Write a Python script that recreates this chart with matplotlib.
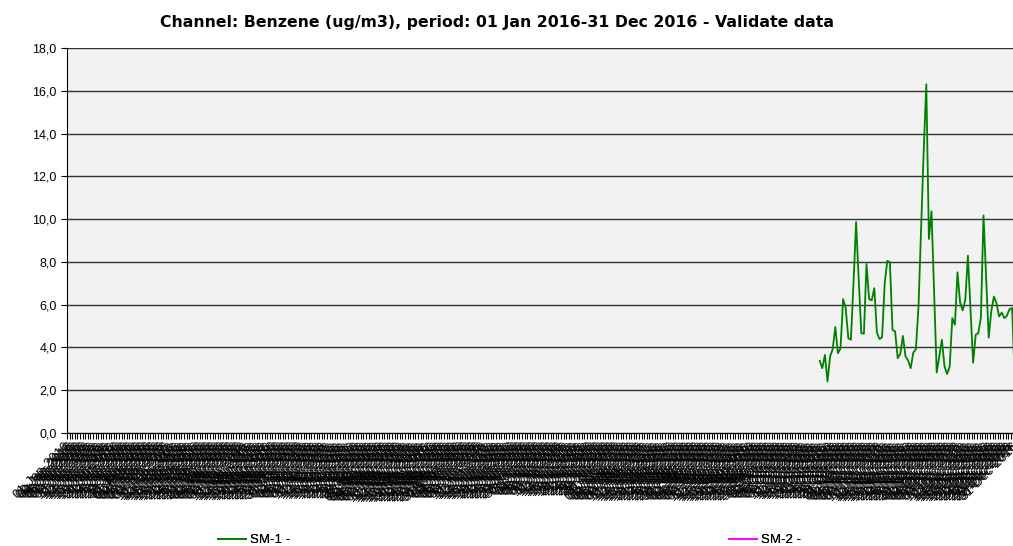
import numpy as np
import pandas as pd
import matplotlib
matplotlib.use('Agg')
import matplotlib.pyplot as plt
from matplotlib.lines import Line2D

# one category per day of 2016
days = pd.date_range('2016-01-01', '2016-12-31', freq='D')
day_labels = [d.strftime('%d-%b-%Y') for d in days]

# SM-1 only has data from mid October on
sm1_start = 289
sm1_values = [3.37, 3.03, 3.65, 2.41, 3.58, 3.92, 4.96, 3.73, 3.95, 6.26,
              5.84, 4.43, 4.36, 7.0, 9.86, 7.2, 4.67, 4.64, 7.90, 6.26,
              6.20, 6.77, 4.70, 4.39, 4.48, 7.0, 8.05, 7.98, 4.82, 4.75,
              3.50, 3.70, 4.54, 3.58, 3.39, 3.03, 3.76, 3.92, 5.9, 9.6,
              13.2, 16.3, 9.07, 10.36, 6.6, 2.83, 3.58, 4.36, 3.11, 2.76,
              3.11, 5.37, 5.06, 7.51, 6.1, 5.73, 6.23, 8.29, 5.8, 3.29,
              4.59, 4.67, 5.4, 10.17, 7.3, 4.46, 5.7, 6.38, 6.07, 5.45,
              5.63, 5.37, 5.48, 5.79, 5.84, 2.5]
sm2_values = []  # no valid data for SM-2

y_ticks = np.arange(0, 19, 2)

sm1 = np.full(len(days), np.nan)
sm1[sm1_start:sm1_start + len(sm1_values)] = sm1_values
sm2 = np.full(len(days), np.nan)
sm2[:len(sm2_values)] = sm2_values

W, H = 1013, 546
fig = plt.figure(figsize=(W / 100, H / 100), dpi=100)
ax = fig.add_axes([67 / W, 113 / H, 951.6 / W, 385 / H])
ax.set_facecolor('#f2f2f2')

x = np.arange(len(days))
ax.plot(x, sm1, color='#008000', lw=1.3, label='SM-1 -')
ax.plot(x, sm2, color='#ff00ff', lw=1.3, label='SM-2 -')

ax.set_xlim(-0.5, len(days) - 0.5)
ax.set_ylim(0, 18)

ax.set_yticks(y_ticks)
ax.set_yticklabels([f'{v:.1f}'.replace('.', ',') for v in y_ticks],
                   family='Liberation Sans', fontsize=9)
ax.yaxis.grid(True, color='#333333', lw=1)
ax.set_axisbelow(True)

ax.set_xticks(x)
ax.set_xticklabels(day_labels, rotation=45, ha='right', va='center',
                   rotation_mode='anchor', family='Liberation Sans', fontsize=9.5)
ax.tick_params(axis='x', which='major', length=0, pad=8)
ax.set_xticks(np.arange(-0.5, len(days), 1), minor=True)
ax.tick_params(axis='x', which='minor', length=4, width=0.8, color='black')
ax.tick_params(axis='y', length=4, color='black')

for s in ['top', 'right']:
    ax.spines[s].set_visible(False)
ax.spines['left'].set_color('black')
ax.spines['bottom'].set_color('black')

fig.text(497 / W, 1 - 23 / H,
         'Channel: Benzene (ug/m3), period: 01 Jan 2016-31 Dec 2016 - Validate data',
         ha='center', va='center', fontsize=11.3, fontweight='bold')

for lab, col, xpos in [('SM-1 -', '#008000', 218), ('SM-2 -', '#ff00ff', 729)]:
    h = Line2D([], [], color=col, lw=1.3)
    leg = fig.legend([h], [lab], loc='center left',
                     bbox_to_anchor=(xpos / W, 1 - 540 / H),
                     frameon=False, borderpad=0, borderaxespad=0,
                     handlelength=2.1, handletextpad=0.3,
                     prop={'family': 'Liberation Sans', 'size': 9.5})
    fig.add_artist(leg)

fig.savefig('out.png', dpi=100)
